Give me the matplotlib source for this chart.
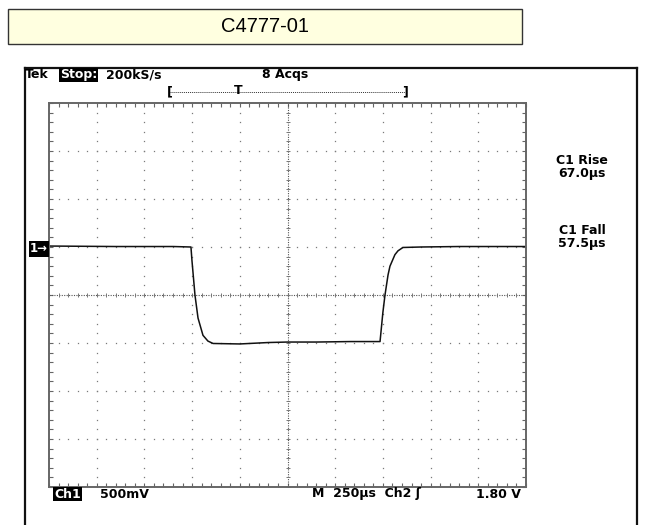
import matplotlib
matplotlib.use("Agg")

import numpy as np
import matplotlib.pyplot as plt
from matplotlib.patches import Rectangle
from matplotlib.lines import Line2D

# trace (time in us, volts relative to screen centre)
time_us = [-1250, -900, -600, -506, -501, -485, -469, -443, -417, -390,
           -250, -100, 0, 150, 330, 485, 500, 511, 527, 537,
           563, 579, 605, 700, 900, 1250]
volts = [0.51, 0.505, 0.505, 0.50, 0.365, 0.0, -0.24, -0.42, -0.48, -0.505,
         -0.51, -0.495, -0.49, -0.49, -0.485, -0.485, -0.18, 0.0, 0.21, 0.30,
         0.42, 0.46, 0.495, 0.50, 0.505, 0.505]

title = "C4777-01"
header_left = "200kS/s"
header_acqs = "8 Acqs"
rise_label = ["C1 Rise", "67.0\u00b5s"]
fall_label = ["C1 Fall", "57.5\u00b5s"]
ch1_scale = "500mV"
timebase = "M  250\u00b5s  Ch2 \u0283"
trig_level = "1.80 V"

W, H = 654, 525


def fx(x):
    return x / W


def fy(y):
    return 1 - y / H


fig = plt.figure(figsize=(6.54, 5.25), dpi=100)

# title box (with a faint shadow edge)
fig.patches.append(Rectangle((fx(9), fy(45)), 514 / W, 35 / H, transform=fig.transFigure,
                             facecolor="#9a9a9a", edgecolor="none"))
fig.patches.append(Rectangle((fx(8), fy(44)), 514 / W, 35 / H, transform=fig.transFigure,
                             facecolor="#FFFFE0", edgecolor="#333333", lw=1))
fig.text(fx(265), fy(26.5), title, ha="center", va="center",
         family="Liberation Sans", fontsize=14.5)

# scope frame (no bottom edge)
for xs, ys in [([25, 25], [525, 68]), ([25, 637], [68, 68]), ([637, 637], [68, 525])]:
    fig.lines.append(Line2D([fx(v) for v in xs], [fy(v) for v in ys],
                            transform=fig.transFigure, color="#111111", lw=1.6))

ax = fig.add_axes([fx(49), fy(487), 477 / W, 384 / H])
ax.set_xlim(-1250, 1250)
ax.set_ylim(-2, 2)

xmaj = np.arange(-1250, 1251, 250)
ymaj = np.arange(-2, 2.01, 0.5)
xmin = np.arange(-1250, 1251, 50)
ymin = np.arange(-2, 2.01, 0.1)

# dotted graticule
dot_x, dot_y = [], []
for xv in xmaj[1:-1]:
    if xv != 0:
        dot_x += [xv] * len(ymin)
        dot_y += list(ymin)
for yv in ymaj[1:-1]:
    if abs(yv) > 1e-9:
        dot_x += list(xmin)
        dot_y += [yv] * len(xmin)
ax.plot(dot_x, dot_y, ls="none", marker="s", ms=0.9, mew=0, color="#7a7a7a")

# centre crosshair
ax.axvline(0, ls=(0, (1, 1.2)), lw=0.8, color="#555555")
ax.axhline(0, ls=(0, (1, 1.2)), lw=0.8, color="#555555")
ax.plot([0] * len(ymin), ymin, ls="none", marker="_", ms=3.5, mew=0.7, color="#777777")
ax.plot(xmin, [0] * len(xmin), ls="none", marker="|", ms=3.5, mew=0.7, color="#777777")

ax.set_xticks(xmin)
ax.set_yticks(ymin)
ax.tick_params(direction="in", length=3, width=0.8, color="#666666",
               top=True, right=True, labelbottom=False, labelleft=False)
for s in ax.spines.values():
    s.set_color("#666666")
    s.set_linewidth(1.4)

ax.plot(time_us, volts, color="#111111", lw=1.1)

scope = dict(family="DejaVu Sans", fontsize=9, fontweight="bold", va="center")

fig.text(fx(25), fy(75), "Tek", ha="left", **scope)
fig.text(fx(60), fy(75), "Stop:", ha="left", color="white",
         bbox=dict(facecolor="black", edgecolor="none", pad=0.6), **scope)
fig.text(fx(106), fy(75), header_left, ha="left", **scope)
fig.text(fx(262), fy(75), header_acqs, ha="left", **scope)

# record-view bracket with trigger marker
fig.lines.append(Line2D([fx(170), fx(405)], [fy(92), fy(92)], transform=fig.transFigure,
                        color="#333333", lw=0.7, ls=(0, (1, 1))))
fig.text(fx(170), fy(92), "[", ha="center", **scope)
fig.text(fx(405), fy(92), "]", ha="center", **scope)
fig.text(fx(238), fy(91), "T", ha="center", **scope)

# ground marker
fig.text(fx(30), fy(249), "1\u2192", ha="left", color="white", fontsize=8.5,
         fontweight="bold", family="DejaVu Sans", va="center",
         bbox=dict(facecolor="black", edgecolor="none", pad=1.0))

fig.text(fx(582), fy(160), rise_label[0], ha="center", **scope)
fig.text(fx(582), fy(173), rise_label[1], ha="center", **scope)
fig.text(fx(582), fy(230), fall_label[0], ha="center", **scope)
fig.text(fx(582), fy(243), fall_label[1], ha="center", **scope)

fig.text(fx(54), fy(494), "Ch1", ha="left", color="white",
         bbox=dict(facecolor="black", edgecolor="none", pad=0.6), **scope)
fig.text(fx(100), fy(494), ch1_scale, ha="left", **scope)
fig.text(fx(312), fy(494), timebase, ha="left", **scope)
fig.text(fx(521), fy(494), trig_level, ha="right", **scope)

fig.savefig("out.png", dpi=100)
plt.close(fig)
